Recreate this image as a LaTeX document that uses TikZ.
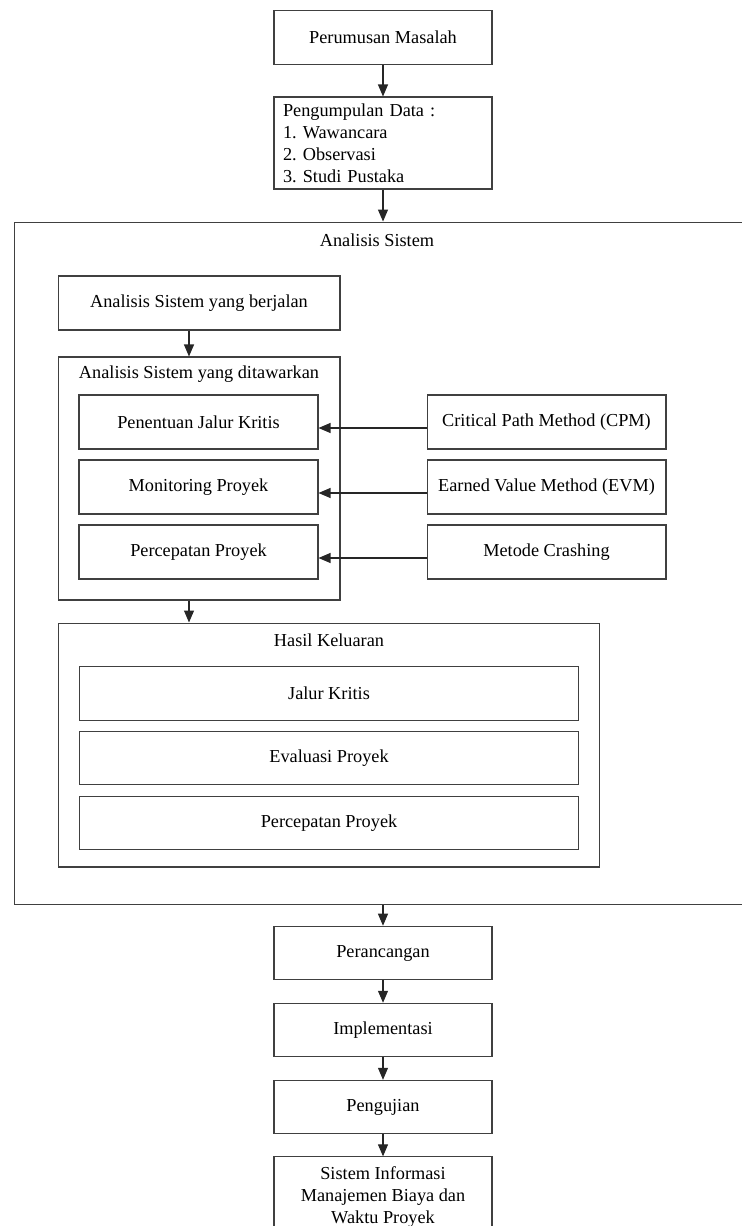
\documentclass[tikz,border=0pt]{standalone}
\usepackage{fontspec}
\setmainfont{Liberation Serif}
\usetikzlibrary{arrows.meta,positioning}
\frenchspacing

\begin{document}
\begin{tikzpicture}[
    x=0.02cm, y=-0.02cm,
    font=\fontsize{10.4}{12.5}\selectfont,
    % --- STYLES ---
    box/.style={
        rectangle, draw=black!75, line width=0.6pt,
        fill=white, align=center, inner sep=2pt
    },
    process/.style={box, minimum width=4.36cm, minimum height=1.07cm},
    method/.style={box, minimum width=4.78cm, minimum height=1.08cm},
    result/.style={box, minimum width=10cm, minimum height=1.07cm},
    group/.style={rectangle, draw=black!75, line width=0.6pt},
    arr/.style={-{Triangle[length=0.24cm,width=0.2cm]}, line width=0.6pt, draw=black!85}
]
\useasboundingbox (0,0) rectangle (741,1226);

% ===== 1. TOP =====
\node[process] (rumus) at (383,37.5) {Perumusan Masalah};
\node[process, minimum height=1.84cm, align=left, text width=4cm] (data) at (383,143)
    {Pengumpulan Data :\\ 1. Wawancara\\ 2. Observasi\\ 3. Studi Pustaka};

% ===== 2. ANALISIS SISTEM =====
\node[group, minimum width=14.72cm, minimum height=13.66cm] (analisis) at (382,563.5) {};
\node (lblAnalisis) at (377,240) {Analisis Sistem};

\node[box, minimum width=5.64cm, minimum height=1.08cm] (berjalan) at (199,303) {Analisis Sistem yang berjalan};

% sistem yang ditawarkan
\node[group, minimum width=5.64cm, minimum height=4.86cm] (tawar) at (199,478.5) {};
\node (lblTawar) at (199,374) {Analisis Sistem yang ditawarkan};
\node[method] (jalur) at (198.5,422) {Penentuan Jalur Kritis};
\node[method] (monitor) at (198.5,487) {Monitoring Proyek};
\node[method] (cepat) at (198.5,552) {Percepatan Proyek};

% metode
\node[method] (cpm) at (546.5,422) {Critical Path Method (CPM)};
\node[method] (evm) at (546.5,487) {Earned Value Method (EVM)};
\node[method] (crash) at (546.5,552) {Metode Crashing};

% hasil keluaran
\node[group, minimum width=10.84cm, minimum height=4.88cm] (hasil) at (329,745) {};
\node (lblHasil) at (329,640) {Hasil Keluaran};
\node[result] (hJalur) at (329,693.5) {Jalur Kritis};
\node[result] (hEval) at (329,758) {Evaluasi Proyek};
\node[result] (hCepat) at (329,823) {Percepatan Proyek};

% ===== 3. BOTTOM =====
\node[process] (rancang) at (383,953) {Perancangan};
\node[process, below=0.45cm of rancang] (impl) {Implementasi};
\node[process, below=0.45cm of impl] (uji) {Pengujian};
\node[process, minimum height=1.6cm, below=0.44cm of uji] (sim)
    {Sistem Informasi\\ Manajemen Biaya dan\\ Waktu Proyek};

% ===== 4. CONNECTIONS =====
\draw[arr] (rumus) -- (data);
\draw[arr] (data.south) -- (data.south |- analisis.north);
\draw[arr] ([xshift=-0.2cm]berjalan.south) -- ([xshift=-0.2cm]tawar.north);
\draw[arr] ([xshift=-0.2cm]tawar.south) -- ([xshift=-0.2cm]tawar.south |- hasil.north);

\draw[arr] ([yshift=-0.12cm]cpm.west) -- ([yshift=-0.12cm]jalur.east);
\draw[arr] ([yshift=-0.12cm]evm.west) -- ([yshift=-0.12cm]monitor.east);
\draw[arr] ([yshift=-0.12cm]crash.west) -- ([yshift=-0.12cm]cepat.east);

\draw[arr] (analisis.south -| rancang.north) -- (rancang.north);
\draw[arr] (rancang) -- (impl);
\draw[arr] (impl) -- (uji);
\draw[arr] (uji) -- (sim);

\end{tikzpicture}
\end{document}
